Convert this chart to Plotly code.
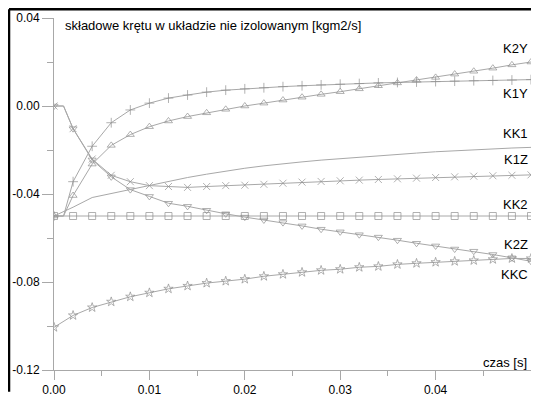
import plotly.graph_objects as go

# time grids
t = [round(i * 0.002, 3) for i in range(26)]
t_fine = [0.0, 0.001] + t[1:]  # extra point at 0.001 (flat start)

# series on t_fine (27 values)
K1Y = [-0.05, -0.05, -0.0344, -0.0183, -0.0076, -0.0018, 0.0013, 0.0036, 0.005, 0.0063,
       0.0072, 0.0078, 0.0083, 0.0088, 0.0092, 0.0096, 0.0099, 0.0102, 0.0105, 0.0107,
       0.0109, 0.0111, 0.0113, 0.0115, 0.0116, 0.0118, 0.012]
K2Y = [-0.05, -0.05, -0.0407, -0.0264, -0.0179, -0.013, -0.0094, -0.0068, -0.0048, -0.0031,
       -0.0015, 0.0, 0.0013, 0.0027, 0.004, 0.0053, 0.0065, 0.0078, 0.0092, 0.0105,
       0.0118, 0.013, 0.0145, 0.0158, 0.0172, 0.0187, 0.020]
KK1 = [-0.05, -0.048, -0.046, -0.0416, -0.0398, -0.0378, -0.036, -0.0342, -0.0325, -0.031,
       -0.0295, -0.0283, -0.0272, -0.0262, -0.0254, -0.0246, -0.0239, -0.0232, -0.0226, -0.022,
       -0.0214, -0.0208, -0.0203, -0.0199, -0.0195, -0.0191, -0.0188]
K1Z = [0.0, 0.0, -0.0103, -0.0241, -0.0315, -0.0344, -0.0362, -0.0366, -0.037, -0.0366,
       -0.0362, -0.036, -0.0356, -0.0351, -0.0346, -0.0343, -0.034, -0.0337, -0.0334, -0.0331,
       -0.0328, -0.0325, -0.0322, -0.0319, -0.0317, -0.0315, -0.0313]
K2Z = [0.0, 0.0, -0.0103, -0.0245, -0.0322, -0.038, -0.0411, -0.0442, -0.0456, -0.0474,
       -0.049, -0.0505, -0.0518, -0.053, -0.0545, -0.056, -0.0572, -0.0585, -0.0596, -0.061,
       -0.0624, -0.0636, -0.065, -0.066, -0.0675, -0.069, -0.0706]
# series on t (26 values)
KK2 = [-0.05] * 26
KKC = [-0.1006, -0.0952, -0.0916, -0.089, -0.0867, -0.0849, -0.0831, -0.0818, -0.0805, -0.0796,
       -0.0787, -0.0774, -0.0765, -0.0756, -0.0747, -0.0742, -0.0733, -0.0729, -0.072, -0.0715,
       -0.071, -0.0706, -0.0702, -0.0697, -0.0693, -0.0693]

labels = ["K2Y", "K1Y", "KK1", "K1Z", "KK2", "K2Z", "KKC"]
label_y = [0.0261, 0.0055, -0.0124, -0.0245, -0.0447, -0.0631, -0.0765]

title_text = "składowe krętu w układzie nie izolowanym [kgm2/s]"
xlabel_text = "czas [s]"
x_ticks = [0.0, 0.01, 0.02, 0.03, 0.04, 0.05]
y_ticks = [0.04, 0.0, -0.04, -0.08, -0.12]

LINE = "#a8a8a8"
MARK = "#909090"
FONT = "Liberation Sans, Arial, sans-serif"

fig = go.Figure()

def add(x, y, symbol, size=7):
    sizes = [size] * len(x)
    if len(x) == 27 and symbol is not None:
        sizes[1] = 0
    fig.add_trace(go.Scatter(
        x=x, y=y, mode="lines+markers" if symbol else "lines",
        line=dict(color=LINE, width=1),
        marker=dict(symbol=symbol, size=sizes, color=MARK,
                    line=dict(color=MARK, width=1)) if symbol else None,
        showlegend=False, hoverinfo="skip"))

add(t, KK2, "square-open", 7)
add(t_fine, KK1, None)
add(t, KKC, "star-open", 7)
add(t_fine, K2Z, "triangle-down-open", 7)
add(t_fine, K1Z, "x-thin-open", 7)
add(t_fine, K2Y, "triangle-up-open", 7)
add(t_fine, K1Y, "cross-thin-open", 7)

for lab, ly in zip(labels, label_y):
    fig.add_annotation(x=0.05, y=ly, xref="x", yref="y", text=lab, showarrow=False,
                       xanchor="right", yanchor="middle", xshift=-1,
                       font=dict(family=FONT, size=13, color="#000"))

fig.add_annotation(x=0.019, y=0.9776, xref="paper", yref="paper", text=title_text,
                   showarrow=False, xanchor="left", yanchor="middle",
                   font=dict(family=FONT, size=13, color="#000"))
fig.add_annotation(x=0.996, y=0.02, xref="paper", yref="paper", text=xlabel_text,
                   showarrow=False, xanchor="right", yanchor="middle",
                   font=dict(family=FONT, size=13, color="#000"))

# outer frame: only top and left edges are visible
FX0, FY1 = -0.0943, 1.0252
fig.add_shape(type="line", xref="paper", yref="paper",
              x0=FX0, x1=FX0, y0=-0.0616, y1=FY1, line=dict(color="#000", width=2.5))
fig.add_shape(type="line", xref="paper", yref="paper",
              x0=FX0, x1=1.0, y0=FY1, y1=FY1, line=dict(color="#000", width=2.5))

fig.update_xaxes(range=[0, 0.05], tickvals=x_ticks,
                 ticktext=[f"{v:.2f}" for v in x_ticks],
                 showgrid=False, zeroline=False, showline=True, linecolor=LINE, linewidth=1,
                 ticks="outside", ticklen=9, tickcolor=LINE, tickwidth=1,
                 minor=dict(ticks="outside", ticklen=5, tickcolor=LINE, dtick=0.005, showgrid=False),
                 tickfont=dict(family=FONT, size=12, color="#000"))
fig.update_yaxes(range=[-0.12, 0.04], tickvals=y_ticks,
                 ticktext=[f"{v:.2f}" for v in y_ticks],
                 showgrid=False, zeroline=False, showline=True, linecolor=LINE, linewidth=1,
                 ticks="outside", ticklen=11, tickcolor=LINE, tickwidth=1,
                 minor=dict(ticks="outside", ticklen=6, tickcolor=LINE,
                            tickvals=[0.02, -0.02, -0.06, -0.1], showgrid=False),
                 tickfont=dict(family=FONT, size=12, color="#000"))

# the page body has an 8px margin; keep the figure inside the body box
fig.update_layout(width=523, height=389, margin=dict(l=46, r=0, t=10, b=22),
                  paper_bgcolor="white", plot_bgcolor="white",
                  font=dict(family=FONT, size=12, color="#000"))

fig.write_html("out.html", config={"displayModeBar": False})
